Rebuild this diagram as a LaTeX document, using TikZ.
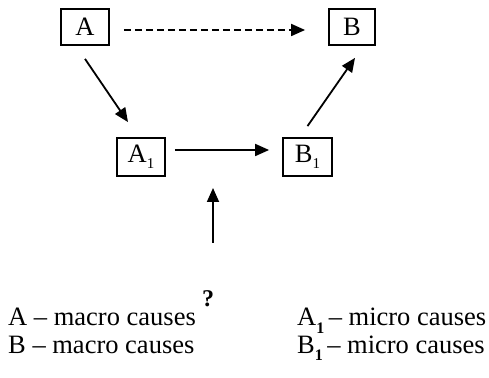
\documentclass[tikz,border=0pt]{standalone}
\usepackage{fontspec}
\setmainfont{Liberation Serif}
\usetikzlibrary{arrows.meta,calc}
\newcommand{\subone}{\raisebox{-6pt}{\fontsize{15}{15}\selectfont 1}}
\newcommand{\subonebf}{\raisebox{-8pt}{\fontsize{16}{16}\selectfont\bfseries 1}}
\begin{document}
\begin{tikzpicture}[x=1pt,y=1pt,
  box/.style={draw,line width=1.8pt,inner sep=0pt,font=\fontsize{26.5}{28}\selectfont},
  conn/.style={line width=1.8pt,-{Triangle[length=14pt,width=12pt]}},
  legend/.style={anchor=base west,inner sep=0pt,font=\fontsize{26.5}{28}\selectfont}]
\useasboundingbox (0,0) rectangle (489,377);
\node[box,minimum width=48pt,minimum height=36pt] (A) at (85,350) {A};
\node[box,minimum width=46pt,minimum height=36pt] (B) at (352,350) {B};
\node[box,minimum width=48pt,minimum height=38pt] (A1) at (141,220) {A\subone};
\node[box,minimum width=49pt,minimum height=38pt] (B1) at (307.5,220) {B\subone};
\draw[conn,dashed,dash pattern=on 7pt off 4pt] ([shift={(14,-3)}]A.east) -- ([shift={(-23,-3)}]B.west);
\draw[conn] ([shift={(9,7)}]A1.east) -- ([shift={(-13,7)}]B1.west);
\draw[conn] ([shift={(0,-13)}]A.south) -- ([shift={(-13,15)}]A1.north);
\draw[conn] ([shift={(0,11)}]B1.north) -- ([shift={(3,-12)}]B.south);
\coordinate (qs) at (213,134);
\coordinate (qe) at (213,189);
\draw[conn] (qs) -- (qe);
\node[anchor=base,inner sep=0pt,font=\fontsize{24}{26}\selectfont\bfseries] (q) at (208,70) {?};
\node[legend] (l1) at (8,52) {A -- macro causes};
\node[legend] (l2) at (8,24) {B -- macro causes};
\node[legend] (l3) at (297,52) {A\subonebf\,-- micro causes};
\node[legend] (l4) at (297,24) {B\subonebf\,-- micro causes};
\end{tikzpicture}
\end{document}
